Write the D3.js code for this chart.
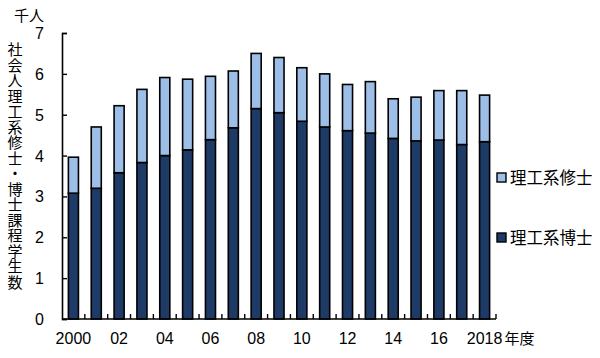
<!DOCTYPE html>
<html>
<head>
<meta charset="utf-8">
<script src="https://cdn.jsdelivr.net/npm/d3@7"></script>
<style>
  body { margin: 0; background: #fff; }
  text { font-family: "Liberation Sans", Arial, "Noto Sans CJK JP", sans-serif; fill: #000; }
  .jp { font-family: "Noto Sans CJK JP", sans-serif; }
</style>
</head>
<body>
<div id="chart"></div>
<script>
// data (thousand persons)
let years = [2000, 2001, 2002, 2003, 2004, 2005, 2006, 2007, 2008, 2009,
             2010, 2011, 2012, 2013, 2014, 2015, 2016, 2017, 2018];
let doctor = [3.08, 3.20, 3.58, 3.83, 4.00, 4.14, 4.39, 4.68, 5.15, 5.05,
              4.84, 4.70, 4.61, 4.55, 4.42, 4.36, 4.38, 4.27, 4.34];
let total  = [3.96, 4.70, 5.22, 5.62, 5.91, 5.87, 5.94, 6.07, 6.50, 6.40,
              6.15, 6.00, 5.74, 5.81, 5.39, 5.43, 5.59, 5.59, 5.48];
let master = total.map((t, i) => +(t - doctor[i]).toFixed(2));
let yTicks = [0, 1, 2, 3, 4, 5, 6, 7];
let xLabels = {2000: "2000", 2002: "02", 2004: "04", 2006: "06", 2008: "08",
               2010: "10", 2012: "12", 2014: "14", 2016: "16", 2018: "2018"};
let seriesNames = ["理工系修士", "理工系博士"];
let colours = {master: "#9dbfe7", doctor: "#1d3b66"};

let width = 600, height = 358;
let margin = {top: 33, right: 104, bottom: 39, left: 62};

let svg = d3.select("#chart").append("svg")
            .attr("width", width)
            .attr("height", height);

let x = d3.scaleBand()
          .domain(years)
          .range([margin.left, width - margin.right])
          .paddingInner(0.56)
          .paddingOuter(0.28);

let y = d3.scaleLinear()
          .domain([0, 7])
          .range([height - margin.bottom, margin.top]);

// stacked bars
let rows = years.map((yr, i) => ({year: yr, doctor: doctor[i], master: master[i]}));
let stack = d3.stack().keys(["doctor", "master"])(rows);

svg.append("g")
   .selectAll("g")
   .data(stack)
   .join("g")
   .attr("fill", d => colours[d.key])
   .selectAll("rect")
   .data(d => d)
   .join("rect")
   .attr("x", d => x(d.data.year))
   .attr("width", x.bandwidth())
   .attr("y", d => y(d[1]))
   .attr("height", d => y(d[0]) - y(d[1]))
   .attr("stroke", "#000")
   .attr("stroke-width", 1.6);

// y axis, ticks pointing inward
let yAxis = svg.append("g")
   .attr("transform", "translate(" + margin.left + ",0)")
   .call(d3.axisRight(y).tickValues(yTicks).tickSize(5).tickFormat(""));
yAxis.select(".domain").attr("stroke-width", 1.6);
yAxis.selectAll("line").attr("stroke-width", 1.4);

svg.append("g")
   .selectAll("text")
   .data(yTicks)
   .join("text")
   .attr("x", margin.left - 18)
   .attr("y", d => y(d) + 6)
   .attr("text-anchor", "end")
   .attr("font-size", 16)
   .text(d => d);

// x axis: baseline and inner ticks at band boundaries
let x0 = margin.left, x1 = width - margin.right;
let step = x.step();
let baseY = y(0);
svg.append("line")
   .attr("x1", x0).attr("x2", x1)
   .attr("y1", baseY).attr("y2", baseY)
   .attr("stroke", "#000").attr("stroke-width", 1.6);

svg.append("g")
   .selectAll("line")
   .data(d3.range(1, years.length + 1))
   .join("line")
   .attr("x1", i => x0 + i * step).attr("x2", i => x0 + i * step)
   .attr("y1", baseY).attr("y2", baseY - 5)
   .attr("stroke", "#000").attr("stroke-width", 1.4);

svg.append("g")
   .selectAll("text")
   .data(years.filter(yr => xLabels[yr]))
   .join("text")
   .attr("x", yr => x(yr) + x.bandwidth() / 2)
   .attr("y", baseY + 25)
   .attr("text-anchor", "middle")
   .attr("font-size", 16)
   .text(yr => xLabels[yr]);

svg.append("text")
   .attr("class", "jp")
   .attr("x", x(2018) + x.bandwidth() / 2 + 20)
   .attr("y", baseY + 25)
   .attr("font-size", 15)
   .text("年度");

// unit label and vertical title
svg.append("text")
   .attr("class", "jp")
   .attr("x", 14)
   .attr("y", 21)
   .attr("font-size", 15)
   .text("千人");

svg.append("text")
   .attr("class", "jp")
   .attr("x", 15)
   .attr("y", 42)
   .attr("font-size", 15)
   .attr("letter-spacing", 0.5)
   .style("writing-mode", "vertical-rl")
   .text("社会人理工系修士・博士課程学生数");

// legend
let legend = svg.append("g");
let legendKeys = ["master", "doctor"];
legendKeys.forEach((k, i) => {
    let ly = 178 + i * 60;
    legend.append("rect")
          .attr("x", 497).attr("y", ly - 5)
          .attr("width", 9).attr("height", 9)
          .attr("fill", colours[k])
          .attr("stroke", "#000").attr("stroke-width", 1.4);
    legend.append("text")
          .attr("class", "jp")
          .attr("x", 510).attr("y", ly + 6)
          .attr("font-size", 16.5)
          .text(seriesNames[i]);
});
</script>
</body>
</html>
